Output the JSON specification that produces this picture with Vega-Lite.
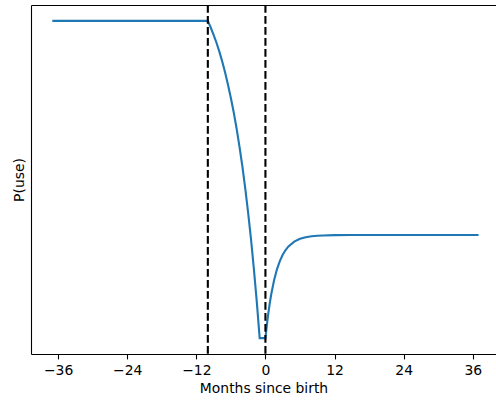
{
  "$schema": "https://vega.github.io/schema/vega-lite/v6.json",
  "width": 465,
  "height": 349,
  "autosize": {"type": "none"},
  "padding": {"left": 31, "top": 5, "right": 0, "bottom": 46},
  "background": "white",
  "config": {"view": {"stroke": null}, "font": "DejaVu Sans"},
  "datasets": {
    "curve": [
      {"month": -37, "p": 1.0},
      {"month": -10, "p": 1.0},
      {"month": -9.5, "p": 0.979},
      {"month": -9, "p": 0.956},
      {"month": -8.5, "p": 0.931},
      {"month": -8, "p": 0.903},
      {"month": -7.5, "p": 0.872},
      {"month": -7, "p": 0.837},
      {"month": -6.5, "p": 0.799},
      {"month": -6, "p": 0.757},
      {"month": -5.5, "p": 0.711},
      {"month": -5, "p": 0.660},
      {"month": -4.5, "p": 0.603},
      {"month": -4, "p": 0.541},
      {"month": -3.5, "p": 0.471},
      {"month": -3, "p": 0.395},
      {"month": -2.5, "p": 0.311},
      {"month": -2, "p": 0.217},
      {"month": -1.5, "p": 0.114},
      {"month": -1, "p": 0.0},
      {"month": 0, "p": 0.0},
      {"month": 0.25, "p": 0.042},
      {"month": 0.5, "p": 0.078},
      {"month": 0.75, "p": 0.110},
      {"month": 1, "p": 0.1375},
      {"month": 1.5, "p": 0.1826},
      {"month": 2, "p": 0.2168},
      {"month": 2.5, "p": 0.2428},
      {"month": 3, "p": 0.2626},
      {"month": 3.5, "p": 0.2776},
      {"month": 4, "p": 0.2890},
      {"month": 5, "p": 0.3042},
      {"month": 6, "p": 0.3130},
      {"month": 7, "p": 0.3181},
      {"month": 8, "p": 0.3210},
      {"month": 9, "p": 0.3227},
      {"month": 10, "p": 0.3237},
      {"month": 12, "p": 0.3246},
      {"month": 15, "p": 0.3249},
      {"month": 20, "p": 0.325},
      {"month": 37, "p": 0.325}
    ],
    "events": [
      {"month": -10},
      {"month": 0}
    ]
  },
  "layer": [
    {
      "data": {"name": "curve"},
      "mark": {"type": "line", "color": "#1f77b4", "strokeWidth": 2.1, "interpolate": "linear"},
      "encoding": {
        "x": {
          "field": "month", "type": "quantitative",
          "scale": {"domain": [-40.7, 40.03], "nice": false, "zero": false},
          "axis": {
            "orient": "bottom",
            "values": [-36, -24, -12, 0, 12, 24, 36],
            "labelExpr": "replace(datum.label, '-', '−')",
            "grid": false,
            "title": "Months since birth",
            "titleFont": "DejaVu Sans",
            "titleFontSize": 13.9,
            "titleFontWeight": "normal",
            "titleColor": "black",
            "titlePadding": 4,
            "labelFont": "DejaVu Sans",
            "labelFontSize": 13.9,
            "labelColor": "black",
            "labelPadding": 5,
            "labelFlush": false,
            "labelOverlap": false,
            "tickColor": "black",
            "tickWidth": 1.1,
            "tickSize": 4.9,
            "domainColor": "black",
            "domainWidth": 1.1
          }
        },
        "y": {
          "field": "p", "type": "quantitative",
          "scale": {"domain": [-0.05, 1.05], "nice": false, "zero": false},
          "axis": {
            "labels": false,
            "ticks": false,
            "grid": false,
            "title": "P(use)",
            "titleFont": "DejaVu Sans",
            "titleFontSize": 13.9,
            "titleFontWeight": "normal",
            "titleColor": "black",
            "titlePadding": 5,
            "domainColor": "black",
            "domainWidth": 1.1
          }
        }
      }
    },
    {
      "data": {"name": "events"},
      "mark": {"type": "rule", "color": "black", "strokeWidth": 2.1, "strokeDash": [7.7, 3.3]},
      "encoding": {
        "x": {
          "field": "month", "type": "quantitative",
          "axis": {
            "orient": "top",
            "labels": false,
            "ticks": false,
            "grid": false,
            "title": null,
            "domainColor": "black",
            "domainWidth": 1.1
          }
        }
      }
    }
  ],
  "resolve": {"axis": {"x": "independent"}}
}
